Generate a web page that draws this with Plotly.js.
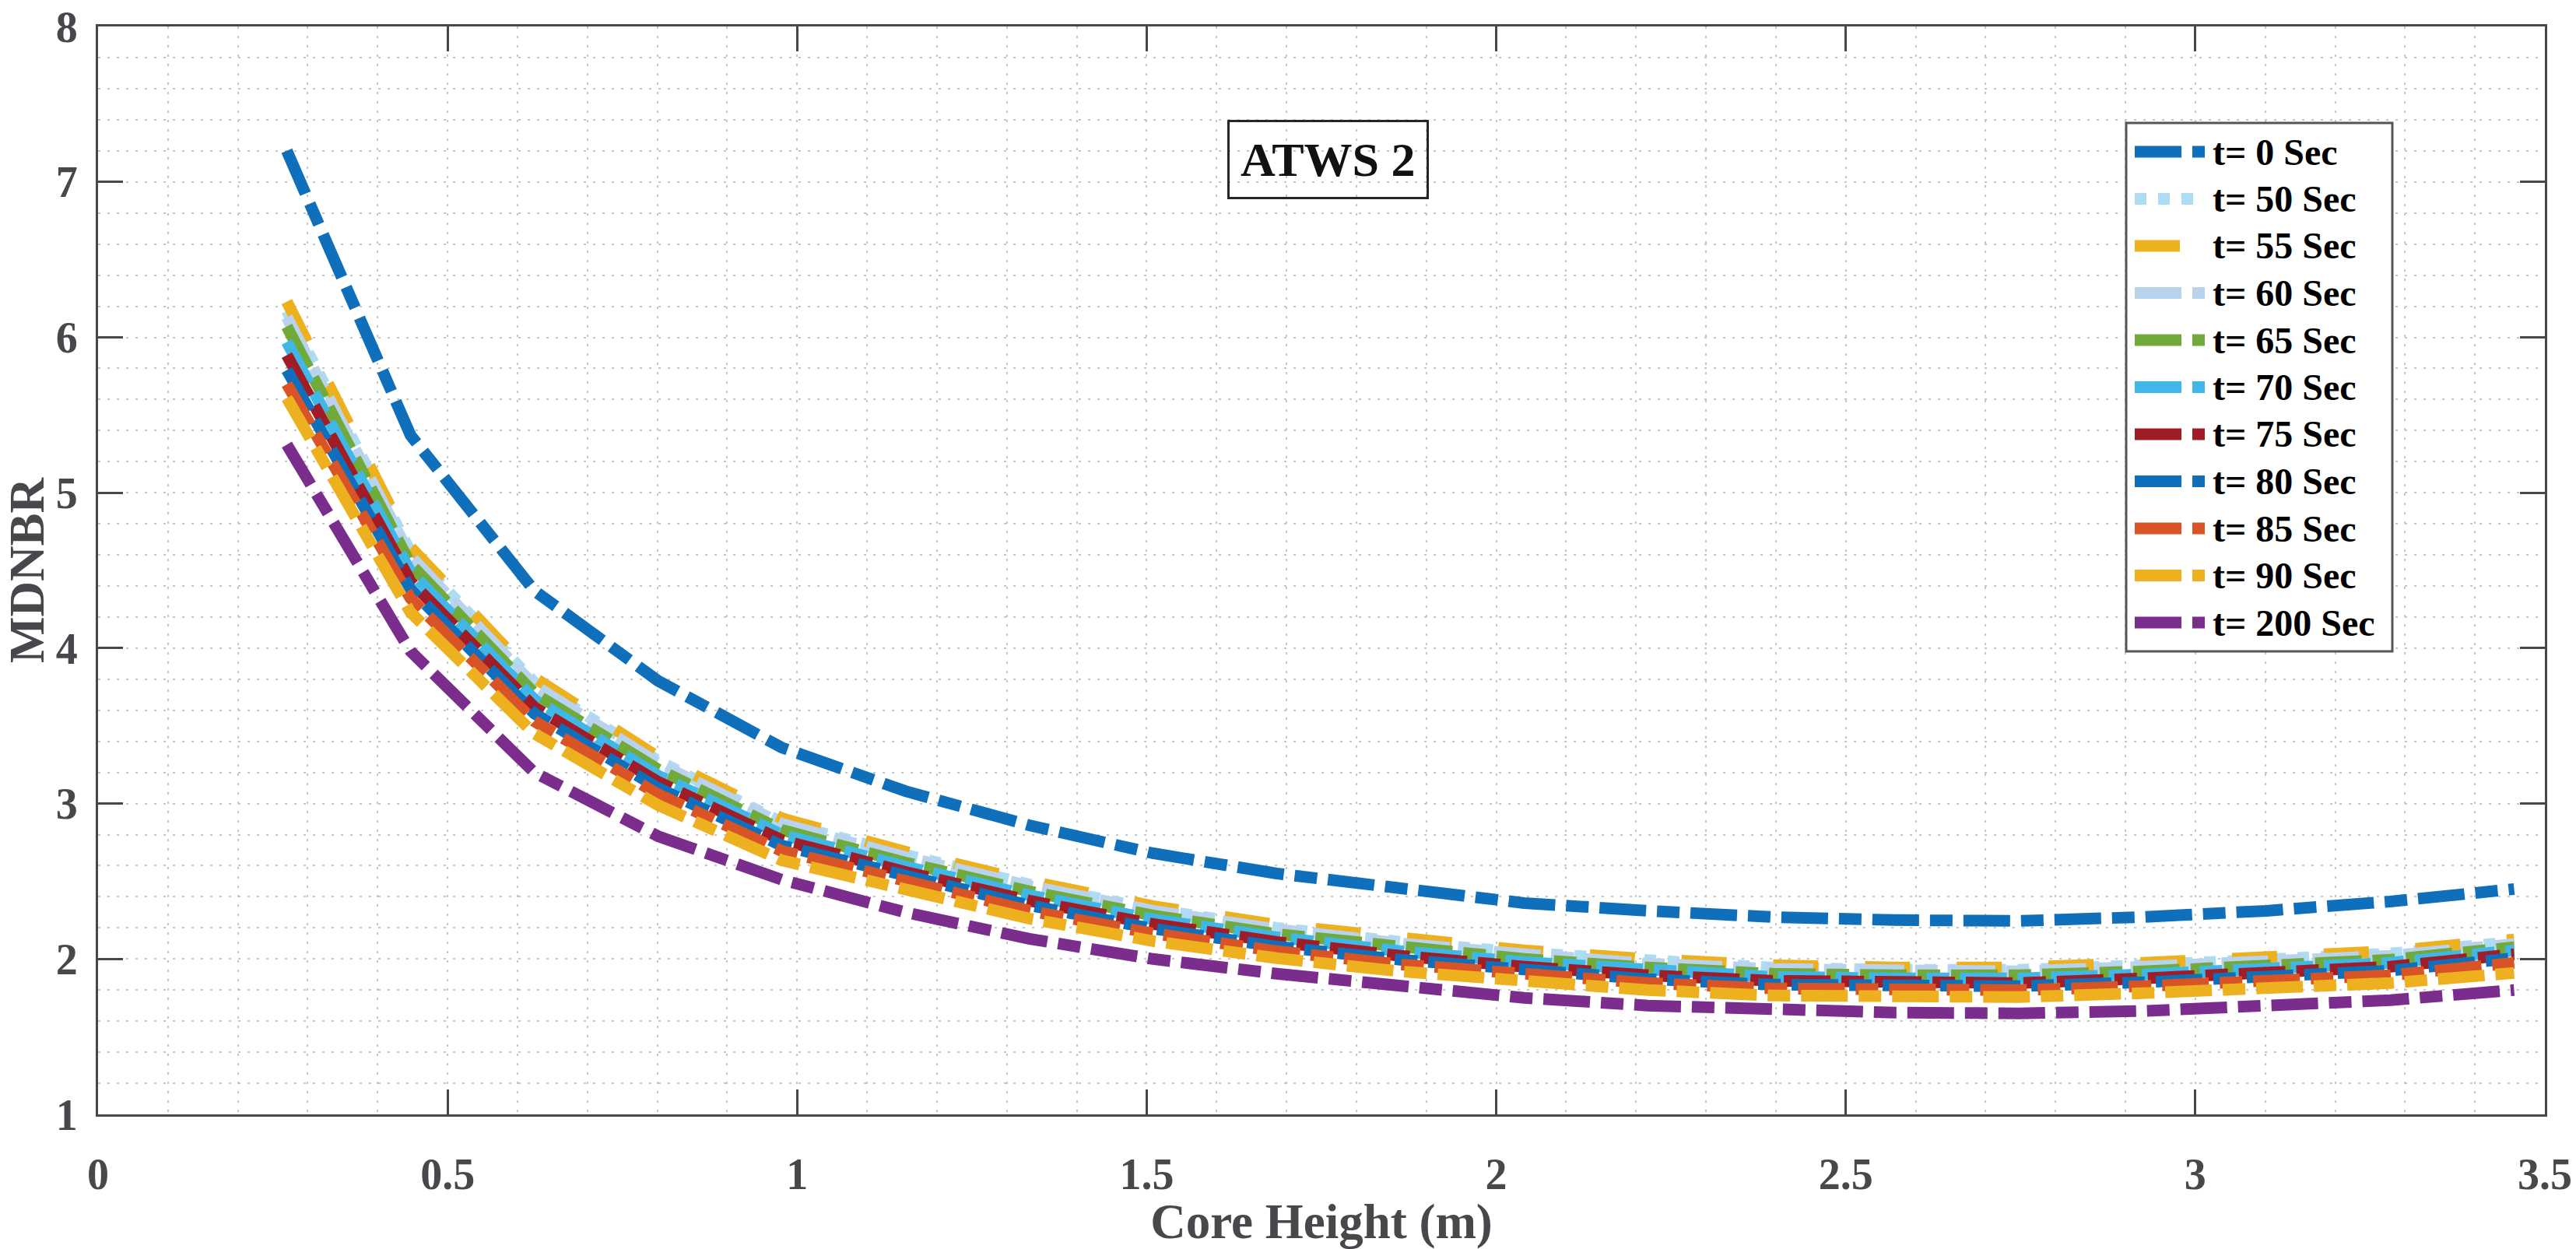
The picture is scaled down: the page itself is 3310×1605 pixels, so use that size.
<!DOCTYPE html>
<html>
<head>
<meta charset="utf-8">
<script src="https://cdn.plot.ly/plotly-3.0.1.min.js"></script>
<style>html,body{margin:0;padding:0;background:#fff;}#chart{width:3310px;height:1605px;}</style>
</head>
<body>
<div id="chart"></div>
<script>
// Core height positions (m)
var coreHeight = [0.27,0.447,0.624,0.801,0.978,1.155,1.332,1.509,1.686,1.863,2.04,2.217,2.394,2.571,2.748,2.925,3.102,3.279,3.456];

// MDNBR values per time
var mdnbr_t0   = [7.20,5.37,4.37,3.79,3.36,3.08,2.86,2.68,2.55,2.45,2.36,2.31,2.27,2.25,2.245,2.27,2.31,2.37,2.45];
var mdnbr_t50  = [6.17,4.62,3.78,3.275,2.88,2.67,2.48,2.32,2.20,2.11,2.04,1.985,1.945,1.93,1.93,1.96,1.995,2.035,2.11];
var mdnbr_t55  = [6.23,4.65,3.81,3.30,2.905,2.69,2.50,2.34,2.22,2.13,2.055,2.00,1.96,1.945,1.945,1.975,2.01,2.05,2.125];
var mdnbr_t60  = [6.13,4.59,3.76,3.26,2.87,2.655,2.47,2.31,2.19,2.10,2.03,1.97,1.935,1.92,1.92,1.95,1.98,2.02,2.095];
var mdnbr_t65  = [6.07,4.54,3.71,3.22,2.83,2.62,2.435,2.28,2.16,2.075,2.00,1.945,1.905,1.895,1.895,1.92,1.955,1.995,2.075];
var mdnbr_t70  = [5.97,4.49,3.67,3.18,2.80,2.595,2.41,2.255,2.14,2.05,1.98,1.925,1.885,1.875,1.875,1.90,1.935,1.975,2.055];
var mdnbr_t75  = [5.885,4.43,3.62,3.14,2.765,2.56,2.375,2.225,2.11,2.02,1.95,1.895,1.86,1.845,1.845,1.875,1.905,1.95,2.03];
var mdnbr_t80  = [5.79,4.38,3.58,3.10,2.73,2.53,2.345,2.195,2.08,1.995,1.925,1.87,1.835,1.825,1.825,1.85,1.88,1.925,2.005];
var mdnbr_t85  = [5.70,4.32,3.53,3.06,2.695,2.495,2.31,2.165,2.05,1.965,1.90,1.845,1.81,1.80,1.80,1.825,1.855,1.895,1.975];
var mdnbr_t90  = [5.61,4.23,3.45,2.99,2.635,2.44,2.26,2.115,2.005,1.92,1.855,1.80,1.765,1.755,1.755,1.78,1.81,1.845,1.91];
var mdnbr_t200 = [5.31,3.98,3.20,2.79,2.51,2.30,2.13,2.00,1.905,1.82,1.75,1.70,1.67,1.655,1.65,1.665,1.70,1.735,1.80];

var seriesNames = ['t= 0 Sec','t= 50 Sec','t= 55 Sec','t= 60 Sec','t= 65 Sec','t= 70 Sec','t= 75 Sec','t= 80 Sec','t= 85 Sec','t= 90 Sec','t= 200 Sec'];
var seriesValues = [mdnbr_t0,mdnbr_t50,mdnbr_t55,mdnbr_t60,mdnbr_t65,mdnbr_t70,mdnbr_t75,mdnbr_t80,mdnbr_t85,mdnbr_t90,mdnbr_t200];
var seriesColors = ['#0F6FBA','#AEDCF3','#EDB120','#B9D3EE','#6FAA3A','#41B7E8','#A01C26','#0F6FBA','#D85427','#EDB120','#7B2D8E'];

var yTickVals = [1,2,3,4,5,6,7,8];
var xTickVals = [0,0.5,1,1.5,2,2.5,3,3.5];

var DASHDOT = '60px,14px,29px,14px';
var DOT = '15px,15px';
var DASH = '58px,60px';
var seriesDash = [DASHDOT,DOT,DASH,DASHDOT,DASHDOT,DASHDOT,DASHDOT,DASHDOT,DASHDOT,DASHDOT,DASHDOT];

var serif = 'Liberation Serif, Times New Roman, serif';
var axisGray = '#48484C';
var gridCol = '#C6C6C6';

var traces = seriesNames.map(function(n,i){
  return {
    x: coreHeight, y: seriesValues[i], name: n, type: 'scatter', mode: 'lines',
    line: {color: seriesColors[i], width: 15, dash: seriesDash[i]},
    showlegend: false, hoverinfo: 'skip'
  };
});

// plot area geometry (px) used to place the custom legend in paper units
var W = 3310, H = 1605, mL = 126, mR = 40, mT = 34, mB = 173;
var pw = W - mL - mR, ph = H - mT - mB;
function px2paperX(px){ return (px - mL) / pw; }
function px2paperY(py){ return (H - mB - py) / ph; }

var shapes = [{
  type: 'rect', xref: 'paper', yref: 'paper',
  x0: px2paperX(2732), x1: px2paperX(3074), y0: px2paperY(837), y1: px2paperY(158),
  fillcolor: '#FFFFFF', line: {color: '#555555', width: 3}, layer: 'above'
}];
var annotations = [{
  text: 'ATWS 2', x: 1.759, y: 7.144, xref: 'x', yref: 'y', showarrow: false,
  font: {family: serif, size: 62, color: '#111111', weight: 'bold'},
  bordercolor: '#262626', borderwidth: 3, borderpad: 14, bgcolor: 'rgba(0,0,0,0)'
}];
seriesNames.forEach(function(n,i){
  var yc = px2paperY(195 + 60.5*i);
  shapes.push({
    type: 'line', xref: 'paper', yref: 'paper',
    x0: px2paperX(2743), x1: px2paperX(2833), y0: yc, y1: yc,
    line: {color: seriesColors[i], width: 15, dash: seriesDash[i]}, layer: 'above'
  });
  annotations.push({
    text: n, xref: 'paper', yref: 'paper', x: px2paperX(2841), y: yc,
    xanchor: 'left', yanchor: 'middle', showarrow: false,
    font: {family: serif, size: 48, color: '#000000', weight: 'bold'}
  });
});

var layout = {
  width: W, height: H,
  margin: {l: mL, r: mR, t: mT, b: mB},
  paper_bgcolor: '#FFFFFF', plot_bgcolor: '#FFFFFF',
  showlegend: false,
  xaxis: {
    range: [0, 3.5], tickmode: 'array', tickvals: xTickVals, ticktext: xTickVals.map(String), autorange: false,
    showline: true, linecolor: axisGray, linewidth: 3, mirror: 'allticks',
    ticks: 'inside', ticklen: 32, tickwidth: 3, tickcolor: axisGray,
    tickfont: {family: serif, size: 56, color: axisGray, weight: 'bold'},
    ticklabelstandoff: 26, ticklabeloverflow: 'allow',
    showgrid: true, gridcolor: gridCol, gridwidth: 2, griddash: '3px,9px',
    minor: {dtick: 0.1, tick0: 0, showgrid: true, gridcolor: gridCol, gridwidth: 2, griddash: '3px,9px', ticks: ''},
    zeroline: false,
    title: {text: 'Core Height (m)', font: {family: serif, size: 63, color: axisGray, weight: 'bold'}, standoff: 10}
  },
  yaxis: {
    range: [1, 8.0005], tickmode: 'array', tickvals: yTickVals, ticktext: yTickVals.map(String), autorange: false,
    showline: true, linecolor: axisGray, linewidth: 3, mirror: 'allticks',
    ticks: 'inside', ticklen: 32, tickwidth: 3, tickcolor: axisGray,
    tickfont: {family: serif, size: 56, color: axisGray, weight: 'bold'},
    ticklabelstandoff: 12, ticklabeloverflow: 'allow',
    showgrid: true, gridcolor: gridCol, gridwidth: 2, griddash: '3px,9px',
    minor: {dtick: 0.2, tick0: 1, showgrid: true, gridcolor: gridCol, gridwidth: 2, griddash: '3px,9px', ticks: ''},
    zeroline: false,
    title: {text: 'MDNBR', font: {family: serif, size: 63, color: axisGray, weight: 'bold'}, standoff: 10}
  },
  shapes: shapes,
  annotations: annotations
};

Plotly.newPlot('chart', traces, layout, {displayModeBar: false, staticPlot: true});
</script>
</body>
</html>
